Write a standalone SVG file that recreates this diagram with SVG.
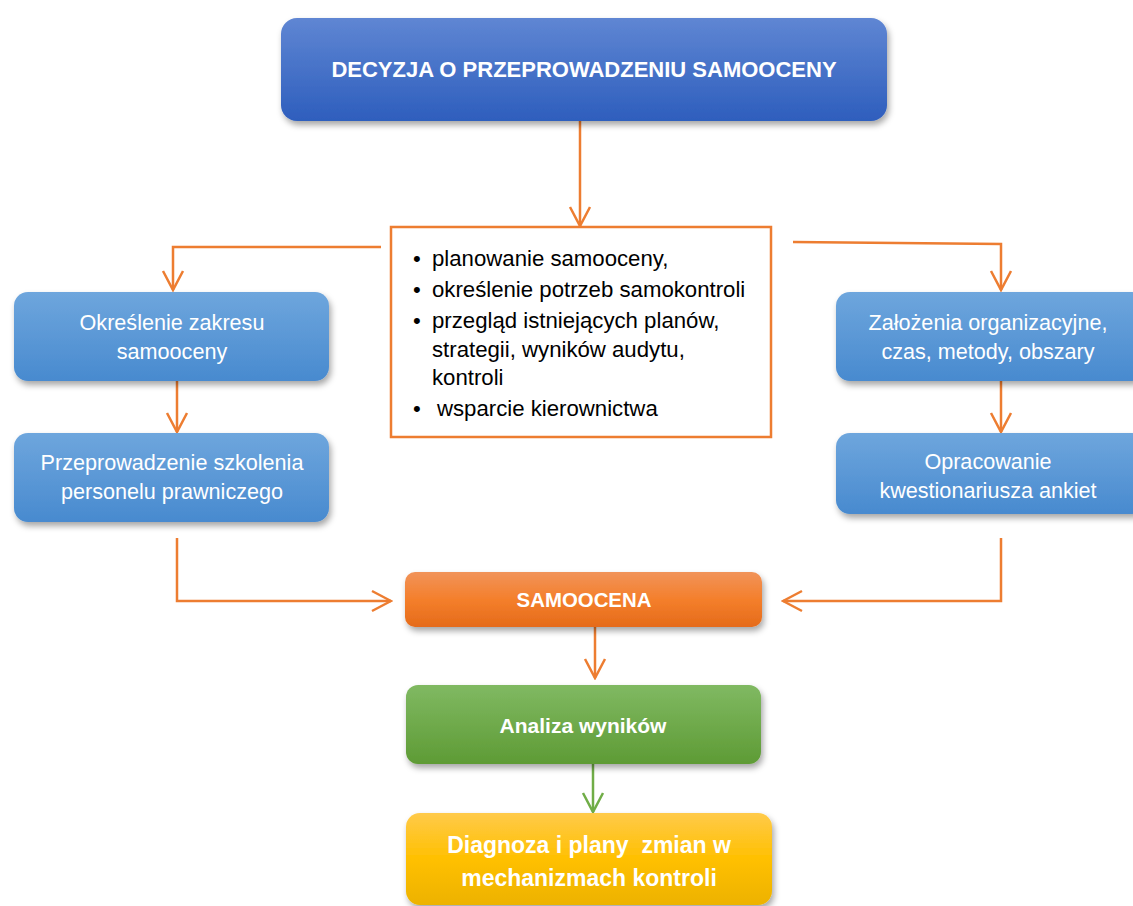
<svg xmlns="http://www.w3.org/2000/svg" width="1133" height="906" viewBox="0 0 1133 906">
<defs>
<linearGradient id="gTitle" x1="0" y1="0" x2="0" y2="1"><stop offset="0" stop-color="#5F86D3"/><stop offset="1" stop-color="#2E5EBD"/></linearGradient>
<linearGradient id="gBlue" x1="0" y1="0" x2="0" y2="1"><stop offset="0" stop-color="#6EA6DD"/><stop offset="1" stop-color="#488ACF"/></linearGradient>
<linearGradient id="gOrange" x1="0" y1="0" x2="0" y2="1"><stop offset="0" stop-color="#F19359"/><stop offset="0.5" stop-color="#F47F2C"/><stop offset="1" stop-color="#E56B1A"/></linearGradient>
<linearGradient id="gGreen" x1="0" y1="0" x2="0" y2="1"><stop offset="0" stop-color="#80B962"/><stop offset="1" stop-color="#5E9B35"/></linearGradient>
<linearGradient id="gYellow" x1="0" y1="0" x2="0" y2="1"><stop offset="0" stop-color="#FFCA4A"/><stop offset="0.5" stop-color="#FFC000"/><stop offset="1" stop-color="#EDB200"/></linearGradient>
<filter id="shadow" x="-10%" y="-20%" width="120%" height="150%"><feDropShadow dx="2" dy="4" stdDeviation="3" flood-color="#000" flood-opacity="0.35"/></filter>
<marker id="arrO" markerUnits="userSpaceOnUse" viewBox="-20 -12 22 24" refX="0" refY="0" markerWidth="22" markerHeight="24" orient="auto"><path d="M-19,-10 L0,0 L-19,10" fill="none" stroke="#ED7D31" stroke-width="2.5"/></marker>
<marker id="arrG" markerUnits="userSpaceOnUse" viewBox="-20 -12 22 24" refX="0" refY="0" markerWidth="22" markerHeight="24" orient="auto"><path d="M-19,-10 L0,0 L-19,10" fill="none" stroke="#70AD47" stroke-width="2.5"/></marker>
</defs>
<style>
.lbl{font-family:"Liberation Sans",Arial,sans-serif;fill:#fff;text-anchor:middle}
.reg{font-size:21.6px}
.bold{font-weight:bold}
.list{font-family:"Liberation Sans",Arial,sans-serif;font-size:22.2px;fill:#000}
.con{fill:none;stroke:#ED7D31;stroke-width:2.5}
.box{filter:url(#shadow)}
</style>
<rect width="1133" height="906" fill="#fff"/>
<g id="connectors">
<path class="con" d="M580,121 L580,226" marker-end="url(#arrO)"/>
<path class="con" d="M381,247 L173,247 L173,290" marker-end="url(#arrO)"/>
<path class="con" d="M793,242 L1001,244 L1001,290" marker-end="url(#arrO)"/>
<path class="con" d="M177,381 L177,432" marker-end="url(#arrO)"/>
<path class="con" d="M1001,381 L1001,432" marker-end="url(#arrO)"/>
<path class="con" d="M177,538 L177,601 L391,601" marker-end="url(#arrO)"/>
<path class="con" d="M1001,538 L1001,601 L783,601" marker-end="url(#arrO)"/>
<path class="con" d="M595,627 L595,678" marker-end="url(#arrO)"/>
<path d="M593,764 L593,812" fill="none" stroke="#70AD47" stroke-width="2.5" marker-end="url(#arrG)"/>
</g>
<g id="n-decyzja">
<rect class="box" x="281" y="18" width="606" height="103" rx="16" fill="url(#gTitle)"/>
<text class="lbl bold" x="584" y="77" style="font-size:22px">DECYZJA O PRZEPROWADZENIU SAMOOCENY</text>
</g>
<g id="n-lista">
<rect x="391" y="227" width="380" height="210" fill="#fff" stroke="#ED7D31" stroke-width="2.5"/>
<text class="list" x="413" y="266">•</text><text class="list" x="432" y="266">planowanie samooceny,</text>
<text class="list" x="413" y="297">•</text><text class="list" x="432" y="297">określenie potrzeb samokontroli</text>
<text class="list" x="413" y="328">•</text><text class="list" x="432" y="328">przegląd istniejących planów,</text>
<text class="list" x="432" y="357">strategii, wyników audytu,</text>
<text class="list" x="432" y="385">kontroli</text>
<text class="list" x="413" y="416">•</text><text class="list" x="437" y="416">wsparcie kierownictwa</text>
</g>
<g id="n-zakres">
<rect class="box" x="14" y="292" width="315" height="89" rx="14" fill="url(#gBlue)"/>
<text class="lbl reg" x="172" y="330">Określenie zakresu</text>
<text class="lbl reg" x="172" y="359">samooceny</text>
</g>
<g id="n-szkolenie">
<rect class="box" x="14" y="433" width="315" height="89" rx="14" fill="url(#gBlue)"/>
<text class="lbl reg" x="172" y="470">Przeprowadzenie szkolenia</text>
<text class="lbl reg" x="172" y="499">personelu prawniczego</text>
</g>
<g id="n-zalozenia">
<rect class="box" x="836" y="292" width="310" height="89" rx="14" fill="url(#gBlue)"/>
<text class="lbl reg" x="988" y="330">Założenia organizacyjne,</text>
<text class="lbl reg" x="988" y="359">czas, metody, obszary</text>
</g>
<g id="n-kwestionariusz">
<rect class="box" x="836" y="433" width="310" height="81" rx="14" fill="url(#gBlue)"/>
<text class="lbl reg" x="988" y="469">Opracowanie</text>
<text class="lbl reg" x="988" y="498">kwestionariusza ankiet</text>
</g>
<g id="n-samoocena">
<rect class="box" x="405" y="572" width="357" height="55" rx="10" fill="url(#gOrange)"/>
<text class="lbl bold" x="584" y="607" style="font-size:20.4px">SAMOOCENA</text>
</g>
<g id="n-analiza">
<rect class="box" x="406" y="685" width="355" height="79" rx="12" fill="url(#gGreen)"/>
<text class="lbl bold" x="583" y="733" style="font-size:21px">Analiza wyników</text>
</g>
<g id="n-diagnoza">
<rect class="box" x="406" y="813" width="366" height="92" rx="14" fill="url(#gYellow)"/>
<text class="lbl bold" x="589" y="853" style="font-size:23px;white-space:pre">Diagnoza i plany  zmian w</text>
<text class="lbl bold" x="589" y="886" style="font-size:23px">mechanizmach kontroli</text>
</g>
</svg>
